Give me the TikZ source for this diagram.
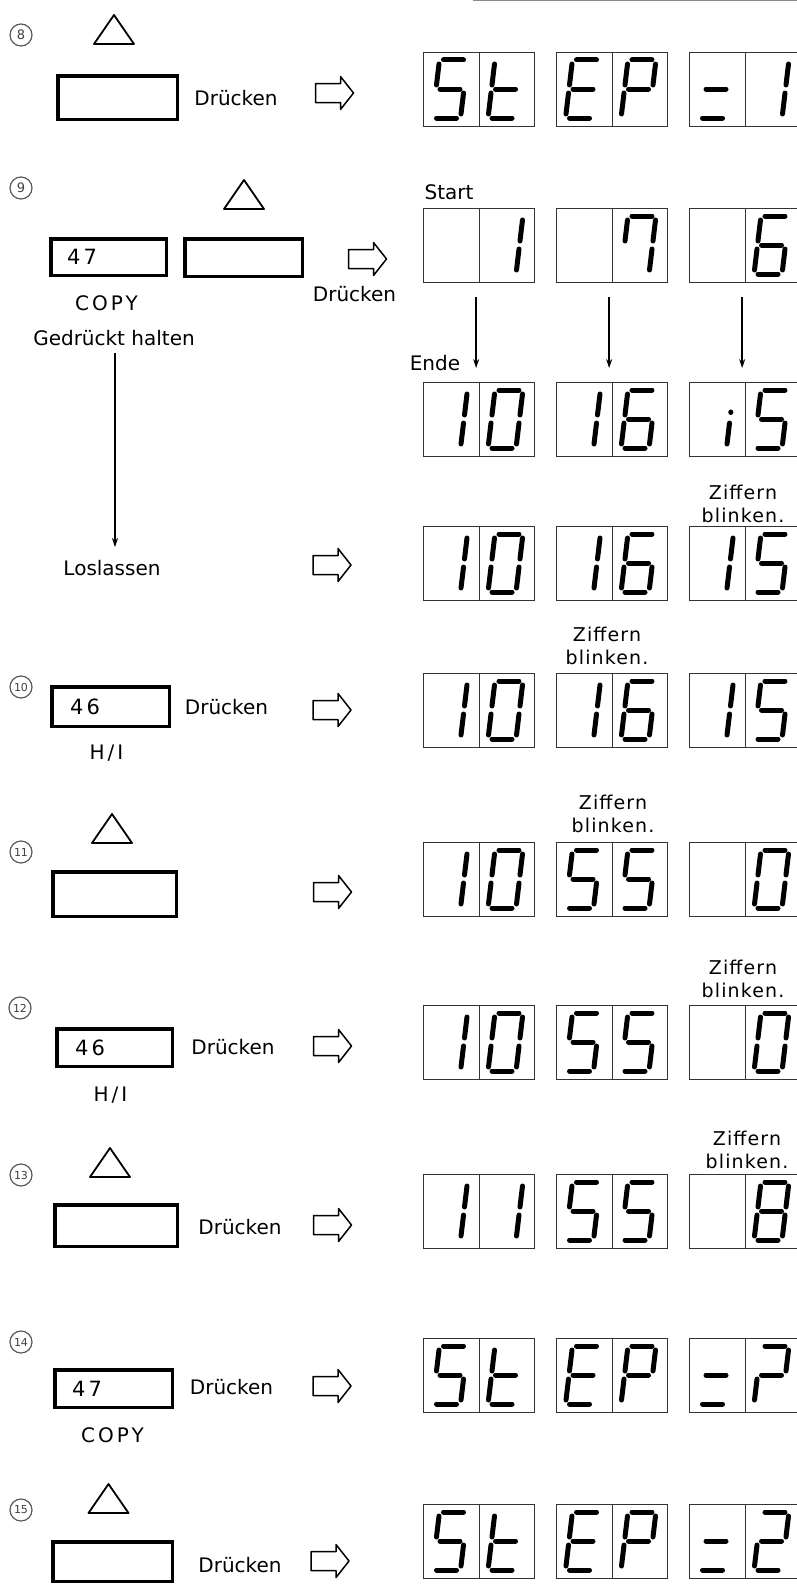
\documentclass[tikz,border=0pt]{standalone}
\usepackage{fontspec}
\setmainfont{DejaVu Sans}
\newfontfamily\spacedfont[LetterSpace=15]{DejaVu Sans}
\newfontfamily\blinkfont[LetterSpace=6]{DejaVu Sans}
\usetikzlibrary{arrows.meta}

% characters of the display, as lists of segments
\def\cS{a,f,g,c,d}
\def\ct{f,e,g,d}
\def\cE{a,f,g,e,d}
\def\cP{a,b,f,g,e}
\def\cOne{b,c}
\def\cSeven{a,b,c,f}
\def\cSix{a,f,g,e,d,c}
\def\cZero{a,b,c,d,e,f}
\def\cEight{a,b,c,d,e,f,g}
\def\cTwo{a,b,g,e,d}
\def\cQ{a,b,g,e}
\def\cDash{g,d}
\def\cI{c,i}
\def\cNone{x}

\tikzset{
  keybox/.style={draw, line width=3.5pt, inner sep=0pt},
  lcd/.style={draw=black!80, line width=1.3pt, minimum width=111pt, minimum height=74pt, inner sep=0pt, anchor=north west},
  lcdline/.style={draw=black!80, line width=1.3pt},
  segline/.style={line width=5pt, line cap=round},
  txt/.style={font=\fontsize{20}{24}\selectfont, inner sep=0pt},
  blink/.style={font=\blinkfont\fontsize{19}{23}\selectfont, inner sep=0pt, align=center},
  keytxt/.style={font=\spacedfont\fontsize{21}{24}\selectfont, inner sep=0pt},
  caption/.style={font=\spacedfont\fontsize{20}{24}\selectfont, inner sep=0pt},
  stepno/.style={circle, draw=black!65, line width=1.2pt, minimum size=22pt, inner sep=0pt, text=black!75, font=\fontsize{11}{11}\selectfont},
  down/.style={line width=1.5pt, -{Stealth[length=9pt, width=6pt]}},
  hollow/.pic={\draw[line width=1.5pt, line join=round] (-19,-9.5) -- (6,-9.5) -- (6,-16.5) -- (19,0) -- (6,16.5) -- (6,9.5) -- (-19,9.5) -- cycle;},
  delta/.pic={\draw[line width=1.8pt, line join=round] (-20,0) -- (0,-29) -- (20,0) -- cycle;}
}

\newcommand\digitseg[2]{%
  \begin{scope}[shift={#1}, xslant=0.12]
    \foreach \s in #2 {
      \if a\s \draw[segline] (-10,-29) -- (10,-29); \fi
      \if b\s \draw[segline] (14,-25) -- (14,-4); \fi
      \if c\s \draw[segline] (14,4) -- (14,25); \fi
      \if d\s \draw[segline] (-10,29) -- (10,29); \fi
      \if e\s \draw[segline] (-14,4) -- (-14,25); \fi
      \if f\s \draw[segline] (-14,-25) -- (-14,-4); \fi
      \if g\s \draw[segline] (-10,0) -- (10,0); \fi
      \if i\s \draw[segline] (14,-7) -- (14,-6.5); \fi
    }
  \end{scope}}

\newcommand\lcdpair[5]{%
  \node[lcd] (#1) at (#2,#3) {};
  \draw[lcdline] (#1.north) -- (#1.south);
  \digitseg{(#2+27,#3+37)}{#4}
  \digitseg{(#2+82.5,#3+37)}{#5}}

\begin{document}
\begin{tikzpicture}[x=1pt, y=-1pt]
\useasboundingbox (0,0) rectangle (797,1587);
\draw[black!45, line width=1pt] (473,1) -- (797,1);

% step 8
\node[stepno, font=\fontsize{13}{13}\selectfont] (n8) at (21,35) {8};
\pic at (114,44) {delta};
\node[keybox, minimum width=119.5pt, minimum height=43.5pt] (k8) at (117.5,97.5) {};
\node[txt] (p8) at (236,98) {Drücken};
\pic at (334.5,93) {hollow};
\lcdpair{r8a}{423}{52}{\cS}{\ct}
\lcdpair{r8b}{556}{52}{\cE}{\cP}
\lcdpair{r8c}{689}{52}{\cDash}{\cOne}

% step 9
\node[stepno, font=\fontsize{13}{13}\selectfont] (n9) at (21,188) {9};
\pic at (244,209) {delta};
\node[keybox, minimum width=115.5pt, minimum height=36.5pt] (k9a) at (108.5,257) {};
\node[keytxt, anchor=west] (k9a-n) at ([xshift=18pt]k9a.west) {47};
\node[keybox, minimum width=117.5pt, minimum height=37.5pt] (k9b) at (243.5,257.5) {};
\node[caption] (c9) at (106.5,303) {COPY};
\node[txt] (hold) at (114,338) {Gedrückt halten};
\node[txt] (p9) at (354.5,294) {Drücken};
\pic at (367.5,259) {hollow};
\node[txt] (start) at (449,192) {Start};
\lcdpair{rSa}{423}{208}{\cNone}{\cOne}
\lcdpair{rSb}{556}{208}{\cNone}{\cSeven}
\lcdpair{rSc}{689}{208}{\cNone}{\cSix}
\node[txt] (ende) at (435,363) {Ende};
\lcdpair{rEa}{423}{382}{\cOne}{\cZero}
\lcdpair{rEb}{556}{382}{\cOne}{\cSix}
\lcdpair{rEc}{689}{382}{\cI}{\cS}
\foreach \a in {a,b,c}
  \draw[down, shorten <=14pt, shorten >=14pt] ([xshift=-3pt]rS\a.south) -- ([xshift=-3pt]rE\a.north);

\node[txt] (loose) at (112,568) {Loslassen};
\draw[down, shorten <=7pt, shorten >=13pt] ([xshift=1pt]hold.south) -- ([xshift=1pt]hold.south |- loose.north);
\pic at (332,565) {hollow};
\node[blink] (zL) at (743,503.5) {Ziffern\\blinken.};
\lcdpair{rLa}{423}{526}{\cOne}{\cZero}
\lcdpair{rLb}{556}{526}{\cOne}{\cSix}
\lcdpair{rLc}{689}{526}{\cOne}{\cS}

% step 10
\node[stepno] (n10) at (21,687) {10};
\node[keybox, minimum width=117.5pt, minimum height=39.5pt] (k10) at (110.5,706.5) {};
\node[keytxt, anchor=west] (k10-n) at ([xshift=20pt]k10.west) {46};
\node[caption] (c10) at (106.5,753) {H/I};
\node[txt] (p10) at (226.5,707) {Drücken};
\pic at (332,710) {hollow};
\node[blink] (z10) at (607,646) {Ziffern\\blinken.};
\lcdpair{r10a}{423}{673}{\cOne}{\cZero}
\lcdpair{r10b}{556}{673}{\cOne}{\cSix}
\lcdpair{r10c}{689}{673}{\cOne}{\cS}

% step 11
\node[stepno] (n11) at (21,852) {11};
\pic at (112,843) {delta};
\node[keybox, minimum width=123.5pt, minimum height=44.5pt] (k11) at (114.5,894) {};
\pic at (332.5,892) {hollow};
\node[blink] (z11) at (613,814) {Ziffern\\blinken.};
\lcdpair{r11a}{423}{842}{\cOne}{\cZero}
\lcdpair{r11b}{556}{842}{\cS}{\cS}
\lcdpair{r11c}{689}{842}{\cNone}{\cZero}

% step 12
\node[stepno] (n12) at (20,1008) {12};
\node[keybox, minimum width=115.5pt, minimum height=37.5pt] (k12) at (114.5,1047.5) {};
\node[keytxt, anchor=west] (k12-n) at ([xshift=20pt]k12.west) {46};
\node[caption] (c12) at (110.5,1095) {H/I};
\node[txt] (p12) at (233,1047) {Drücken};
\pic at (332.5,1046) {hollow};
\node[blink] (z12) at (743,978.5) {Ziffern\\blinken.};
\lcdpair{r12a}{423}{1005}{\cOne}{\cZero}
\lcdpair{r12b}{556}{1005}{\cS}{\cS}
\lcdpair{r12c}{689}{1005}{\cNone}{\cZero}

% step 13
\node[stepno] (n13) at (21,1175) {13};
\pic at (110,1177) {delta};
\node[keybox, minimum width=122.5pt, minimum height=41.5pt] (k13) at (116,1225.5) {};
\node[txt] (p13) at (240,1227) {Drücken};
\pic at (332.5,1225) {hollow};
\node[blink] (z13) at (747,1150) {Ziffern\\blinken.};
\lcdpair{r13a}{423}{1174}{\cOne}{\cOne}
\lcdpair{r13b}{556}{1174}{\cS}{\cS}
\lcdpair{r13c}{689}{1174}{\cNone}{\cEight}

% step 14
\node[stepno] (n14) at (21,1342) {14};
\node[keybox, minimum width=117.5pt, minimum height=37.5pt] (k14) at (113.5,1388.5) {};
\node[keytxt, anchor=west] (k14-n) at ([xshift=19pt]k14.west) {47};
\node[caption] (c14) at (112.5,1435) {COPY};
\node[txt] (p14) at (231.5,1387) {Drücken};
\pic at (332,1386) {hollow};
\lcdpair{r14a}{423}{1338}{\cS}{\ct}
\lcdpair{r14b}{556}{1338}{\cE}{\cP}
\lcdpair{r14c}{689}{1338}{\cDash}{\cQ}

% step 15
\node[stepno] (n15) at (21,1510) {15};
\pic at (108.5,1513) {delta};
\node[keybox, minimum width=119.5pt, minimum height=39.5pt] (k15) at (112.5,1561.5) {};
\node[txt] (p15) at (240,1565) {Drücken};
\pic at (330,1561) {hollow};
\lcdpair{r15a}{423}{1504}{\cS}{\ct}
\lcdpair{r15b}{556}{1504}{\cE}{\cP}
\lcdpair{r15c}{689}{1504}{\cDash}{\cTwo}
\end{tikzpicture}
\end{document}
